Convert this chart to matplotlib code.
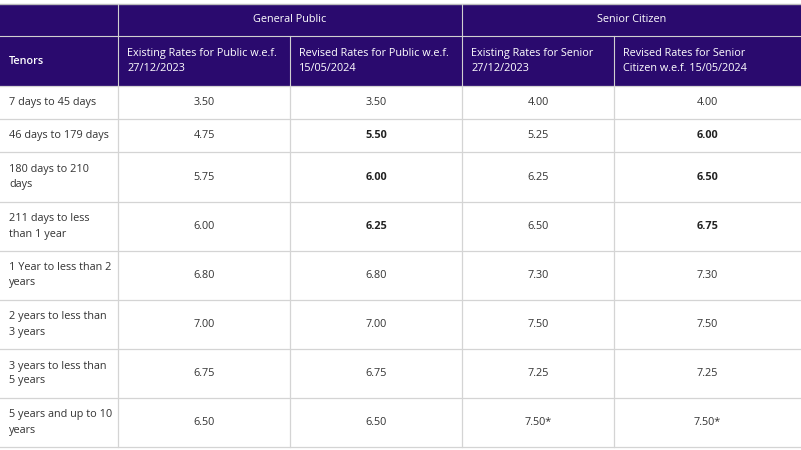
import matplotlib
matplotlib.use("Agg")
import matplotlib.pyplot as plt
from matplotlib.patches import Rectangle

tenors = ["7 days to 45 days", "46 days to 179 days", "180 days to 210\ndays",
          "211 days to less\nthan 1 year", "1 Year to less than 2\nyears",
          "2 years to less than\n3 years", "3 years to less than\n5 years",
          "5 years and up to 10\nyears"]
public_existing = ["3.50", "4.75", "5.75", "6.00", "6.80", "7.00", "6.75", "6.50"]
public_revised = ["3.50", "5.50", "6.00", "6.25", "6.80", "7.00", "6.75", "6.50"]
senior_existing = ["4.00", "5.25", "6.25", "6.50", "7.30", "7.50", "7.25", "7.50*"]
senior_revised = ["4.00", "6.00", "6.50", "6.75", "7.30", "7.50", "7.25", "7.50*"]
bold_revised = [False, True, True, True, False, False, False, False]
group_headers = ["General Public", "Senior Citizen"]
col_headers = ["Tenors", "Existing Rates for Public w.e.f.\n27/12/2023",
               "Revised Rates for Public w.e.f.\n15/05/2024",
               "Existing Rates for Senior\n27/12/2023",
               "Revised Rates for Senior\nCitizen w.e.f. 15/05/2024"]

W, H = 801, 450
fig = plt.figure(figsize=(W/100, H/100), dpi=100)
ax = fig.add_axes([0, 0, 1, 1])
ax.set_xlim(0, W); ax.set_ylim(H, 0); ax.axis("off")
plt.rcParams["font.family"] = "Open Sans"

purple = "#2a0a6e"
xs = [0, 118, 290, 462, 614, 801]
ys = [86, 119, 152, 202, 251, 300, 349, 398, 447]
fs = 7.8

ax.add_patch(Rectangle((0, 4), W, 82, color=purple, lw=0))
ax.plot([0, W], [4, 4], color="#bbbbbb", lw=1)
ax.plot([0, W], [36, 36], color="#d0d0d0", lw=0.8)
for x in [118, 462]:
    ax.plot([x, x], [4, 86], color="#d0d0d0", lw=0.8)
for x in [290, 614]:
    ax.plot([x, x], [36, 86], color="#d0d0d0", lw=0.8)
ax.text((118+462)/2, 20, group_headers[0], color="white", ha="center", va="center", fontsize=fs)
ax.text((462+801)/2, 20, group_headers[1], color="white", ha="center", va="center", fontsize=fs)
ax.text(9, 61, col_headers[0], color="white", ha="left", va="center", fontsize=fs, fontweight="semibold")
for i in range(1, 5):
    ax.text(xs[i]+9, 61, col_headers[i], color="white", ha="left", va="center",
            fontsize=fs, linespacing=1.45)

for y in ys:
    ax.plot([0, W], [y, y], color="#d4d4d4", lw=0.9)
for x in xs[1:5]:
    ax.plot([x, x], [86, 447], color="#d4d4d4", lw=0.9)

for r in range(len(tenors)):
    cy = (ys[r] + ys[r+1]) / 2
    ax.text(9, cy, tenors[r], ha="left", va="center", fontsize=fs, color="#333333", linespacing=1.5)
    vals = [public_existing[r], public_revised[r], senior_existing[r], senior_revised[r]]
    for c, v in enumerate(vals):
        bold = bold_revised[r] and c in (1, 3)
        ax.text((xs[c+1]+xs[c+2])/2, cy, v, ha="center", va="center", fontsize=fs,
                color="#222222" if bold else "#333333", fontweight="bold" if bold else "normal")

fig.savefig("out.png", dpi=100)
